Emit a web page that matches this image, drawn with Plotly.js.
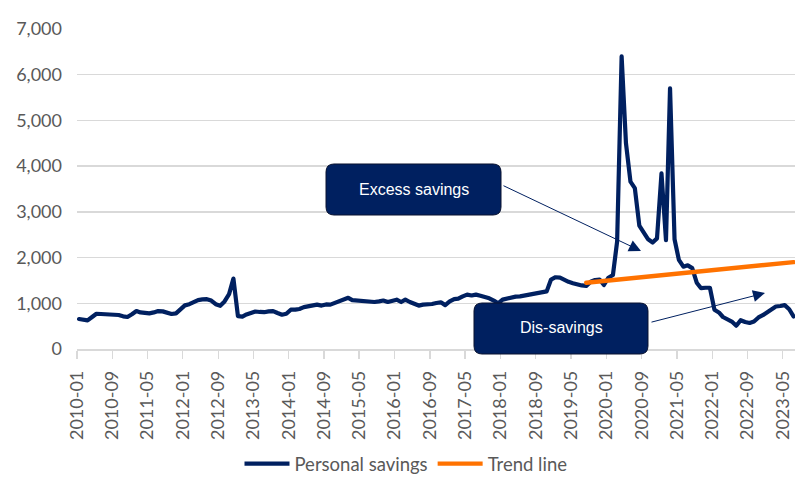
<!DOCTYPE html>
<html>
<head>
<meta charset="utf-8">
<script src="https://cdn.plot.ly/plotly-3.0.1.min.js"></script>
<style>
  html, body { margin: 0; padding: 0; background: #ffffff; }
  #chart { width: 812px; height: 489px; }
  .scatterlayer .js-line { stroke-linejoin: round; stroke-linecap: round; }
</style>
</head>
<body>
<div id="chart"></div>
<script>
// Monthly personal savings, 2010-01 .. 2023-07 (billions, annualised)
const firstYear = 2010, lastYear = 2023, lastMonth = 7;
const months = [];
for (let y = firstYear; y <= lastYear; y++) {
  for (let m = 1; m <= 12; m++) {
    if (y === lastYear && m > lastMonth) break;
    months.push(y + '-' + String(m).padStart(2, '0'));
  }
}

const personalSavings = [
  656, 633, 625, 700, 770, 766, 760, 775, 766, 744, 715, 700,          // 2010
  760, 830, 800, 780, 780, 800, 830, 823, 785, 766, 780, 880,          // 2011
  955, 980, 1030, 1070, 1085, 1090, 1060, 980, 945, 1040, 1200, 1540,  // 2012
  720, 710, 755, 790, 820, 810, 805, 823, 830, 788, 750, 770,          // 2013
  860, 860, 875, 915, 940, 960, 970, 950, 975, 970, 1006, 1043,        // 2014
  1094, 1120, 1070, 1060, 1050, 1040, 1028, 1028, 1043, 1060, 1028, 1043, // 2015
  1079, 1028, 1079, 1028, 984, 950, 970, 970, 984, 1006, 1021, 960,    // 2016
  1040, 1090, 1100, 1150, 1190, 1170, 1190, 1165, 1145, 1110, 1060, 1000, // 2017
  1080, 1110, 1130, 1145, 1150, 1165, 1181, 1200, 1220, 1240, 1260, 1520, // 2018
  1570, 1560, 1510, 1470, 1440, 1410, 1390, 1380, 1470, 1510, 1520, 1400, // 2019
  1560, 1620, 2350, 6400, 4500, 3660, 3520, 2700, 2550, 2400, 2330, 2420, // 2020
  3840, 2380, 5700, 2400, 1950, 1800, 1830, 1770, 1450, 1330, 1340, 1340, // 2021
  860, 800, 700, 650, 600, 510, 630, 590, 570, 600, 690, 740,          // 2022
  810, 880, 930, 940, 960, 870, 710                                    // 2023
];

// Straight trend line: start and end points
const trendMonths = ['2019-08', '2023-07'];
const trendValues = [1450, 1900];

// Category labels shown on the horizontal axis (every eighth month)
const tickLabels = [
  '2010-01', '2010-09', '2011-05', '2012-01', '2012-09', '2013-05', '2014-01',
  '2014-09', '2015-05', '2016-01', '2016-09', '2017-05', '2018-01', '2018-09',
  '2019-05', '2020-01', '2020-09', '2021-05', '2022-01', '2022-09', '2023-05'
];

// Each monthly value sits mid-month; ticks mark the start of the month
const midMonth = m => m + '-15';
const monthStart = m => m + '-01';

const NAVY = '#002060';
const ORANGE = '#ff7200';
const GREY = '#d9d9d9';
const TEXT = '#595959';

const traces = [
  {
    type: 'scatter', mode: 'lines', name: 'Personal savings',
    x: months.map(midMonth), y: personalSavings,
    line: { color: NAVY, width: 4.2 }
  },
  {
    type: 'scatter', mode: 'lines', name: 'Trend line',
    x: trendMonths.map(midMonth), y: trendValues,
    line: { color: ORANGE, width: 4.4 }
  }
];

// Plot-area geometry in pixels, used to place the callout boxes
const M = { l: 77, r: 17, t: 29, b: 140 };
const W = 812, H = 489;
const pw = W - M.l - M.r, ph = H - M.t - M.b;
const px = x => (x - M.l) / pw;
const py = y => (H - M.b - y) / ph;

function roundedBox(x0, y0, x1, y1, r) {
  const X = v => px(v).toFixed(5), Y = v => py(v).toFixed(5);
  return 'M' + X(x0 + r) + ',' + Y(y0) +
    ' L' + X(x1 - r) + ',' + Y(y0) +
    ' Q' + X(x1) + ',' + Y(y0) + ' ' + X(x1) + ',' + Y(y0 + r) +
    ' L' + X(x1) + ',' + Y(y1 - r) +
    ' Q' + X(x1) + ',' + Y(y1) + ' ' + X(x1 - r) + ',' + Y(y1) +
    ' L' + X(x0 + r) + ',' + Y(y1) +
    ' Q' + X(x0) + ',' + Y(y1) + ' ' + X(x0) + ',' + Y(y1 - r) +
    ' L' + X(x0) + ',' + Y(y0 + r) +
    ' Q' + X(x0) + ',' + Y(y0) + ' ' + X(x0 + r) + ',' + Y(y0) + ' Z';
}

const boxStyle = {
  type: 'path', xref: 'paper', yref: 'paper', layer: 'above',
  fillcolor: NAVY, line: { color: '#0a1330', width: 1 }
};

const shapes = [
  Object.assign({ path: roundedBox(326, 164, 501, 215, 8) }, boxStyle),
  Object.assign({ path: roundedBox(474, 303, 648, 354, 8) }, boxStyle)
];

const calloutFont = { family: 'Liberation Sans, Arial, sans-serif', size: 16, color: '#ffffff' };
const arrowStyle = {
  xref: 'paper', yref: 'paper', text: '', showarrow: true,
  arrowhead: 2, arrowsize: 2.4, arrowwidth: 1, arrowcolor: NAVY, standoff: 0
};

const annotations = [
  { xref: 'paper', yref: 'paper', x: px(413.5), y: py(189), text: 'Excess savings',
    showarrow: false, font: calloutFont, xanchor: 'center', yanchor: 'middle' },
  { xref: 'paper', yref: 'paper', x: px(561), y: py(327.5), text: 'Dis-savings',
    showarrow: false, font: calloutFont, xanchor: 'center', yanchor: 'middle' },
  Object.assign({ x: px(641), y: py(251), ax: 502 - 641, ay: 185 - 251 }, arrowStyle),
  Object.assign({ x: px(765), y: py(293), ax: 650 - 765, ay: 322.5 - 293 }, arrowStyle)
];

const layout = {
  width: W, height: H,
  margin: M,
  paper_bgcolor: '#ffffff', plot_bgcolor: '#ffffff',
  font: { family: 'Lato, "Open Sans", sans-serif', size: 18, color: TEXT },
  showlegend: true,
  legend: {
    orientation: 'h', xref: 'container', yref: 'container',
    x: 0.5, xanchor: 'center', y: 0.051, yanchor: 'middle',
    font: { size: 18.5, color: TEXT }, itemwidth: 45, bgcolor: 'rgba(0,0,0,0)'
  },
  xaxis: {
    type: 'date',
    range: ['2010-01-01', '2023-07-25'],
    tickmode: 'array',
    tickvals: tickLabels.map(monthStart),
    ticktext: tickLabels,
    tickangle: -90,
    ticks: 'outside', ticklen: 8, tickwidth: 1.3, tickcolor: GREY,
    ticklabelstandoff: 5,
    showline: true, linecolor: GREY, linewidth: 1.5,
    showgrid: false, zeroline: false,
    tickfont: { size: 18, color: TEXT }
  },
  yaxis: {
    range: [0, 7000], tick0: 0, dtick: 1000, tickformat: ',d',
    showgrid: true, gridcolor: GREY, gridwidth: 1.3,
    zeroline: false, showline: false, ticks: '',
    ticklabelstandoff: 14,
    tickfont: { size: 18, color: TEXT }
  },
  shapes: shapes,
  annotations: annotations
};

Plotly.newPlot('chart', traces, layout, { staticPlot: true, displayModeBar: false });
</script>
</body>
</html>
